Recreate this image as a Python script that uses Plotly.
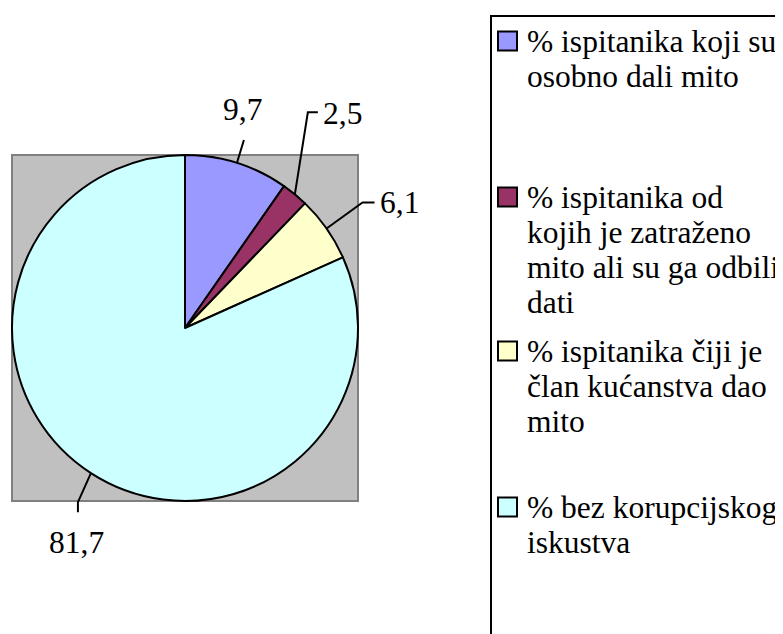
import math
import plotly.graph_objects as go

# ---- data ----
categories = [
    "% ispitanika koji su<br>osobno dali mito",
    "% ispitanika od<br>kojih je zatraženo<br>mito ali su ga odbili<br>dati",
    "% ispitanika čiji je<br>član kućanstva dao<br>mito",
    "% bez korupcijskog<br>iskustva",
]
values = [9.7, 2.5, 6.1, 81.7]
value_labels = ["9,7", "2,5", "6,1", "81,7"]
colors = ["#9999FF", "#993366", "#FFFFCC", "#CCFFFF"]

# ---- layout constants (pixels in the final screenshot) ----
OFF = 8                      # page body margin
W, H = 783 - OFF, 634 - OFF
FONT = "Liberation Serif"
FS = 31.5
SQ = (12, 155, 358, 501)     # gray plot area (x0, y0, x1, y1)
cx, cy = (SQ[0] + SQ[2]) / 2, (SQ[1] + SQ[3]) / 2
r = (SQ[2] - SQ[0]) / 2


def px(x):
    return (x - OFF) / W


def py(y):
    return 1 - (y - OFF) / H


# leader line geometry per label: elbow offset from edge, tail offset, text offset & anchor
elbow_off = [(7, -23), (13, -82), (36, -26), (-13, 29)]
tail_off = [(0, 0), (10, 0), (12, 0), (0, 10)]
text_off = [(-1, -30, "center"), (3, 1, "left"), (3, 0, "left"), (-1, 30, "center")]

fig = go.Figure(
    go.Pie(
        labels=[c.replace("<br>", " ") for c in categories],
        values=values,
        sort=False,
        direction="clockwise",
        rotation=0,
        textinfo="none",
        marker=dict(colors=colors, line=dict(color="black", width=2)),
        domain=dict(x=[px(SQ[0]), px(SQ[2])], y=[py(SQ[3]), py(SQ[1])]),
        showlegend=False,
    )
)

shapes = [
    dict(type="rect", xref="paper", yref="paper", layer="below",
         x0=px(SQ[0]), x1=px(SQ[2]), y0=py(SQ[3]), y1=py(SQ[1]),
         fillcolor="#C0C0C0", line=dict(color="#808080", width=2)),
    # legend frame
    dict(type="rect", xref="paper", yref="paper",
         x0=px(491), x1=px(830), y0=py(690), y1=py(16),
         fillcolor="rgba(0,0,0,0)", line=dict(color="black", width=2)),
]
annotations = []

total = sum(values)
cum = 0
for i, v in enumerate(values):
    theta = math.radians((cum + v / 2) / total * 360)
    cum += v
    ex, ey = cx + r * math.sin(theta), cy - r * math.cos(theta)
    bx, by = ex + elbow_off[i][0], ey + elbow_off[i][1]
    tx, ty = bx + tail_off[i][0], by + tail_off[i][1]
    shapes.append(dict(
        type="path", xref="paper", yref="paper",
        path=f"M {px(ex)},{py(ey)} L {px(bx)},{py(by)} L {px(tx)},{py(ty)}",
        line=dict(color="black", width=2),
    ))
    dx, dy, anc = text_off[i]
    annotations.append(dict(
        x=px(tx + dx), y=py(ty + dy), xref="paper", yref="paper",
        text=value_labels[i], showarrow=False, xanchor=anc, yanchor="middle",
        font=dict(family=FONT, size=FS, color="black"),
    ))

# manual legend (Excel-like spacing): first-line baselines
legend_baselines = [52, 208, 362, 518]
line_gap = 35
mid_shift = 0.3375 * FS      # box centre above baseline for Liberation Serif
for i, cat in enumerate(categories):
    b0 = legend_baselines[i]
    sc = b0 - 11
    shapes.append(dict(
        type="rect", xref="paper", yref="paper",
        x0=px(498), x1=px(517), y0=py(sc + 9.5), y1=py(sc - 9.5),
        fillcolor=colors[i], line=dict(color="black", width=2),
    ))
    for j, line in enumerate(cat.split("<br>")):
        annotations.append(dict(
            x=px(525), y=py(b0 + j * line_gap - mid_shift), xref="paper", yref="paper",
            text=line, showarrow=False, xanchor="left", yanchor="middle",
            font=dict(family=FONT, size=FS, color="black"),
        ))

fig.update_layout(
    width=W, height=H,
    margin=dict(l=0, r=0, t=0, b=0),
    paper_bgcolor="white", plot_bgcolor="white",
    shapes=shapes, annotations=annotations,
    showlegend=False,
)
fig.write_html("out.html")
